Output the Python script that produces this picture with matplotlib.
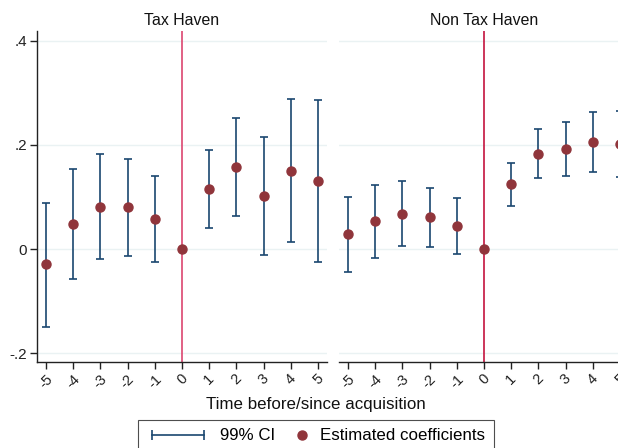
import matplotlib
matplotlib.use("Agg")
import matplotlib.pyplot as plt
from matplotlib.lines import Line2D
from matplotlib.legend_handler import HandlerLine2D, HandlerBase
import numpy as np

plt.rcParams['font.family'] = ['Liberation Sans', 'DejaVu Sans']

# ---- data ----
periods = [-5, -4, -3, -2, -1, 0, 1, 2, 3, 4, 5]
tick_labels_x = ['-5', '-4', '-3', '-2', '-1', '0', '1', '2', '3', '4', '5']
yticks = [-0.2, 0.0, 0.2, 0.4]
ytick_labels = ['-.2', '0', '.2', '.4']
panel_titles = ['Tax Haven', 'Non Tax Haven']

th_coef = [-0.029, 0.048, 0.081, 0.081, 0.058, 0.0, 0.116, 0.157, 0.102, 0.150, 0.130]
th_lo = [-0.149, -0.058, -0.019, -0.013, -0.024, np.nan, 0.041, 0.064, -0.012, 0.013, -0.025]
th_hi = [0.089, 0.154, 0.183, 0.174, 0.141, np.nan, 0.190, 0.251, 0.216, 0.288, 0.287]

nth_coef = [0.028, 0.053, 0.068, 0.061, 0.045, 0.0, 0.125, 0.183, 0.192, 0.206, 0.202]
nth_lo = [-0.045, -0.017, 0.006, 0.004, -0.010, np.nan, 0.083, 0.136, 0.141, 0.149, 0.139]
nth_hi = [0.100, 0.124, 0.131, 0.118, 0.099, np.nan, 0.166, 0.230, 0.244, 0.263, 0.265]

ci_color = '#1a476f'
pt_color = '#90353b'
grid_color = '#eaf2f3'
vline_colors = ['#dc4670', '#c4133e']

W, H = 618, 448
fig = plt.figure(figsize=(W / 100, H / 100), dpi=100)

def fx(px):
    return px / W

def fy(py):
    return 1 - py / H

ax_bottom = fy(362)
ax_height = fy(31) - fy(362)
axes = [fig.add_axes([fx(37), ax_bottom, fx(290), ax_height]),
        fig.add_axes([fx(339), ax_bottom, fx(290), ax_height])]

data = [(th_coef, th_lo, th_hi), (nth_coef, nth_lo, nth_hi)]

for i, ax in enumerate(axes):
    coef, lo, hi = [np.array(a, dtype=float) for a in data[i]]
    x = np.array(periods)
    ax.set_xlim(-5.33, 5.33)
    ax.set_ylim(-0.217, 0.419)
    for yv in yticks:
        ax.axhline(yv, color=grid_color, lw=1.0, zorder=0)
    ax.axvline(0, color=vline_colors[i], lw=1.2, zorder=1)
    mask = ~np.isnan(lo)
    ax.errorbar(x[mask], (lo[mask] + hi[mask]) / 2,
                yerr=(hi[mask] - lo[mask]) / 2, fmt='none',
                ecolor=ci_color, elinewidth=1.2, capsize=3, capthick=1.2, zorder=2)
    ax.plot(x, coef, 'o', color=pt_color, ms=6.5, mec=pt_color, zorder=3)
    ax.set_xticks(periods)
    ax.set_xticklabels(tick_labels_x, rotation=45, ha='center', va='top', fontsize=10.5)
    ax.set_yticks(yticks)
    for s in ['top', 'right']:
        ax.spines[s].set_visible(False)
    ax.spines['bottom'].set_color('#222222')
    ax.spines['bottom'].set_linewidth(1.0)
    ax.tick_params(axis='x', direction='out', length=5, width=1, color='#222222',
                   labelcolor='#222222', pad=2)
    ax.set_title(panel_titles[i], fontsize=11.4, color='#111111', pad=4)
    if i == 0:
        ax.set_yticklabels(ytick_labels, fontsize=11)
        ax.spines['left'].set_color('#222222')
        ax.spines['left'].set_linewidth(1.0)
        ax.tick_params(axis='y', direction='out', length=5, width=1, color='#222222',
                       labelcolor='#222222', pad=2)
    else:
        ax.spines['left'].set_visible(False)
        ax.tick_params(axis='y', length=0, labelleft=False)

fig.text(fx(316), fy(405), 'Time before/since acquisition', ha='center', va='center',
         fontsize=12.2, color='#111111')


class RightDot(HandlerBase):
    def create_artists(self, legend, orig_handle, xdescent, ydescent, width, height,
                       fontsize, trans):
        xm = -xdescent + width - 5
        ym = (height - ydescent) / 2
        dot = Line2D([xm], [ym], lw=0, marker='o', color=orig_handle.get_color(),
                     ms=orig_handle.get_markersize(), mec=orig_handle.get_color())
        dot.set_transform(trans)
        return [dot]


h_ci = Line2D([], [], color=ci_color, lw=1.2, marker='|', ms=7, mew=1.2)
h_pt = Line2D([], [], color=pt_color, lw=0, marker='o', ms=6.5)
leg = fig.legend([h_ci, h_pt], ['99% CI', 'Estimated coefficients'],
                 loc='upper center', bbox_to_anchor=(fx(316), fy(420)), ncol=2,
                 fontsize=12.2, frameon=True, fancybox=False, handlelength=3.7,
                 handletextpad=0.65, columnspacing=-1.7, borderpad=0.5,
                 borderaxespad=0,
                 handler_map={h_ci: HandlerLine2D(numpoints=2),
                              h_pt: RightDot()})
leg.get_frame().set_edgecolor('#222222')
leg.get_frame().set_linewidth(0.8)

fig.savefig('out.png', dpi=100)
